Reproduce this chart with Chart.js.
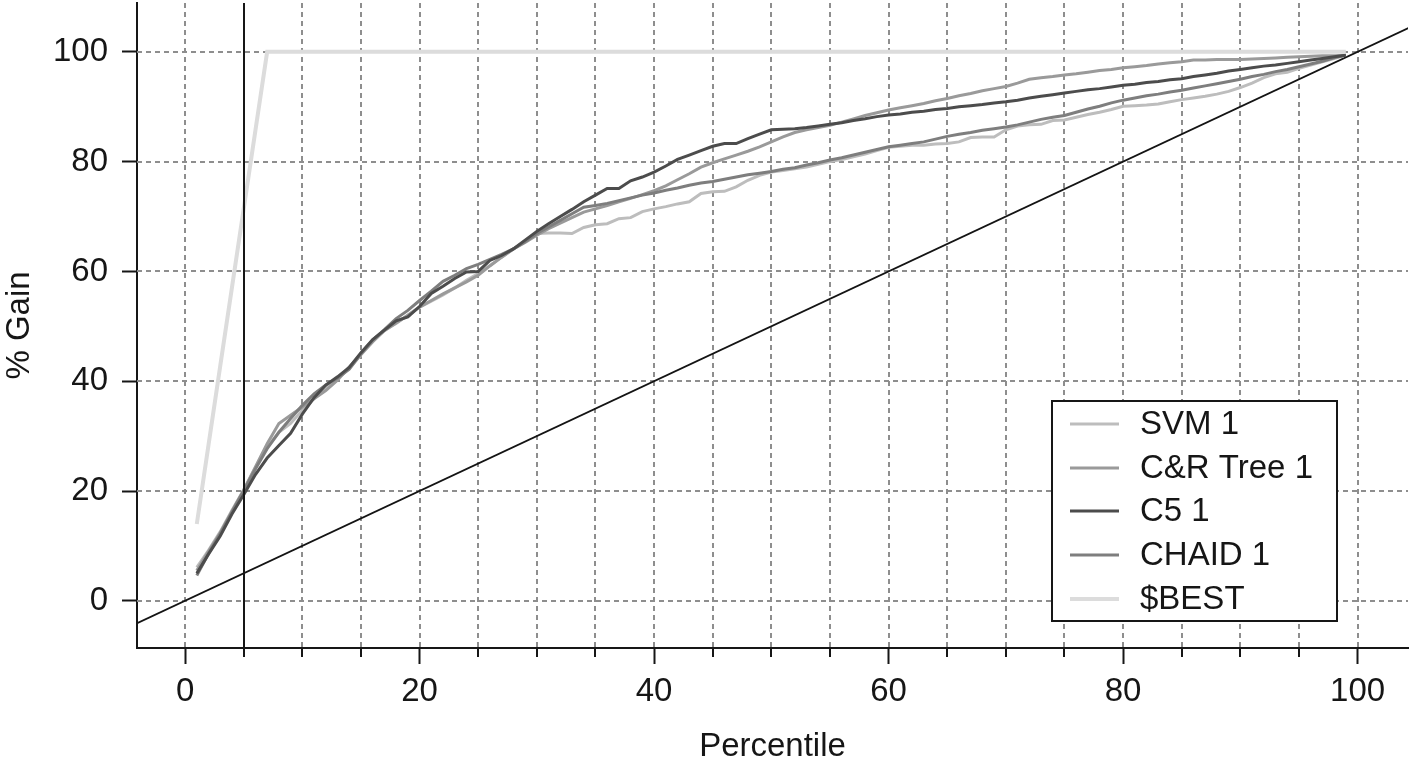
<!DOCTYPE html>
<html>
<head>
<meta charset="utf-8">
<script src="https://cdn.jsdelivr.net/npm/chart.js@4.4.0/dist/chart.umd.min.js"></script>
<style>
  html, body { margin: 0; padding: 0; background: #fff; }
  canvas { display: block; }
</style>
</head>
<body>
<canvas id="gain" width="1413" height="767"></canvas>
<script>
// ── Data ────────────────────────────────────────────────────────────
const PERCENTILES = [
  1, 2, 3, 4, 5, 6, 7, 8, 9, 10, 11, 12, 13, 14, 15, 16, 17, 18, 19, 20,
  21, 22, 23, 24, 25, 26, 27, 28, 29, 30, 31, 32, 33, 34, 35, 36, 37, 38, 39, 40,
  41, 42, 43, 44, 45, 46, 47, 48, 49, 50, 51, 52, 53, 54, 55, 56, 57, 58, 59, 60,
  61, 62, 63, 64, 65, 66, 67, 68, 69, 70, 71, 72, 73, 74, 75, 76, 77, 78, 79, 80,
  81, 82, 83, 84, 85, 86, 87, 88, 89, 90, 91, 92, 93, 94, 95, 96, 97, 98, 99,
];

const SVM_1 = [
  6.1, 9.2, 12.6, 16.5, 20.2, 24.2, 28.0, 30.7, 32.3, 34.7, 36.8, 38.9, 40.5, 42.3, 44.8, 47.2, 49.3, 50.5, 52.0, 53.5,
  54.6, 55.7, 57.0, 58.4, 59.6, 61.1, 62.6, 64.1, 65.5, 66.9, 67.0, 67.0, 66.9, 68.0, 68.5, 68.7, 69.6, 69.8, 70.9, 71.4,
  71.8, 72.3, 72.7, 74.2, 74.5, 74.6, 75.4, 76.6, 77.5, 78.1, 78.4, 78.7, 79.0, 79.5, 80.0, 80.4, 80.9, 81.4, 82.0, 82.6,
  82.8, 83.0, 83.0, 83.2, 83.3, 83.6, 84.4, 84.5, 84.5, 85.8, 86.5, 86.7, 86.8, 87.5, 87.6, 88.1, 88.6, 89.0, 89.5, 90.1,
  90.2, 90.3, 90.5, 90.9, 91.3, 91.6, 91.9, 92.3, 92.8, 93.5, 94.3, 95.3, 96.0, 96.3, 97.0, 97.6, 98.2, 98.8, 99.4,
];

const CR_TREE_1 = [
  5.5, 9.0, 12.4, 16.3, 20.2, 24.4, 28.6, 32.3, 33.8, 35.3, 36.8, 38.3, 40.2, 42.6, 44.9, 47.2, 49.2, 50.6, 52.0, 53.5,
  54.7, 55.9, 57.0, 58.1, 59.3, 61.0, 62.6, 64.1, 65.3, 66.6, 67.8, 68.8, 69.8, 70.8, 71.4, 72.0, 72.7, 73.3, 74.0, 74.7,
  75.6, 76.7, 77.8, 79.0, 79.8, 80.5, 81.2, 81.9, 82.7, 83.6, 84.5, 85.3, 85.8, 86.2, 86.6, 87.2, 87.8, 88.4, 88.9, 89.4,
  89.8, 90.2, 90.6, 91.1, 91.5, 92.0, 92.4, 92.9, 93.3, 93.7, 94.3, 95.0, 95.3, 95.5, 95.8, 96.0, 96.3, 96.6, 96.8, 97.1,
  97.3, 97.5, 97.8, 98.0, 98.2, 98.5, 98.5, 98.6, 98.6, 98.6, 98.7, 98.8, 98.9, 99.0, 99.1, 99.2, 99.3, 99.3, 99.4,
];

const C5_1 = [
  5.0, 8.5, 11.8, 15.8, 19.3, 23.0, 26.0, 28.3, 30.5, 34.0, 37.0, 39.3, 40.8, 42.5, 45.2, 47.6, 49.3, 51.0, 51.7, 53.6,
  56.0, 57.3, 58.7, 59.9, 60.0, 62.0, 62.9, 64.1, 65.7, 67.3, 68.7, 70.0, 71.3, 72.7, 73.9, 75.1, 75.1, 76.5, 77.2, 78.1,
  79.2, 80.4, 81.2, 82.0, 82.8, 83.3, 83.3, 84.2, 85.0, 85.8, 85.9, 86.0, 86.2, 86.5, 86.8, 87.1, 87.5, 87.8, 88.2, 88.5,
  88.7, 89.0, 89.2, 89.5, 89.7, 90.0, 90.2, 90.4, 90.7, 90.9, 91.2, 91.6, 91.9, 92.2, 92.5, 92.8, 93.1, 93.3, 93.6, 93.9,
  94.1, 94.4, 94.6, 94.9, 95.1, 95.5, 95.8, 96.1, 96.5, 96.8, 97.1, 97.4, 97.6, 97.9, 98.2, 98.5, 98.8, 99.1, 99.4,
];

const CHAID_1 = [
  4.6, 8.6, 12.2, 16.2, 20.0, 24.0, 27.7, 30.7, 33.2, 35.6, 37.7, 39.3, 40.6, 42.2, 45.0, 47.5, 49.4, 51.4, 52.9, 54.7,
  56.4, 58.2, 59.3, 60.5, 61.3, 62.2, 63.1, 64.1, 65.4, 66.9, 68.1, 69.3, 70.5, 71.7, 72.0, 72.4, 72.9, 73.4, 73.9, 74.3,
  74.8, 75.2, 75.7, 76.1, 76.4, 76.8, 77.2, 77.6, 77.9, 78.2, 78.6, 78.9, 79.4, 79.8, 80.3, 80.7, 81.2, 81.7, 82.2, 82.7,
  83.0, 83.3, 83.6, 84.1, 84.6, 85.0, 85.3, 85.7, 86.0, 86.3, 86.7, 87.2, 87.7, 88.1, 88.4, 89.0, 89.6, 90.1, 90.7, 91.2,
  91.6, 92.0, 92.3, 92.7, 93.0, 93.4, 93.8, 94.2, 94.6, 95.0, 95.5, 95.9, 96.4, 96.8, 97.3, 97.8, 98.3, 98.9, 99.4,
];

const BEST = [
  14.0, 28.4, 42.8, 57.1, 71.4, 85.7, 100, 100, 100, 100, 100, 100, 100, 100, 100, 100, 100, 100, 100, 100,
  100, 100, 100, 100, 100, 100, 100, 100, 100, 100, 100, 100, 100, 100, 100, 100, 100, 100, 100, 100,
  100, 100, 100, 100, 100, 100, 100, 100, 100, 100, 100, 100, 100, 100, 100, 100, 100, 100, 100, 100,
  100, 100, 100, 100, 100, 100, 100, 100, 100, 100, 100, 100, 100, 100, 100, 100, 100, 100, 100, 100,
  100, 100, 100, 100, 100, 100, 100, 100, 100, 100, 100, 100, 100, 100, 100, 100, 100, 100, 100,
];

// diagonal (random model) and the 5th-percentile cut-off
const BASELINE = [-10, 110];
const CUTOFF = 5;

const X_TICKS = [0, 20, 40, 60, 80, 100];
const X_MINOR = [0, 5, 10, 15, 20, 25, 30, 35, 40, 45, 50, 55, 60, 65, 70, 75, 80, 85, 90, 95, 100];
const Y_TICKS = [0, 20, 40, 60, 80, 100];

// ── Styling ─────────────────────────────────────────────────────────
const FONT = "'Liberation Sans', Arial, Helvetica, sans-serif";
const FONT_SIZE = 33;
const INK = '#161616';
const GRID = '#8e8e8e';

Chart.defaults.font.family = FONT;
Chart.defaults.color = INK;

const pts = (ys) => PERCENTILES.map((p, i) => ({ x: p, y: ys[i] }));

function series(label, ys, color, width, order) {
  return {
    label, data: pts(ys), borderColor: color, backgroundColor: color,
    borderWidth: width, pointRadius: 0, tension: 0, fill: false, order,
  };
}

const datasets = [
  series('SVM 1', SVM_1, '#bdbdbd', 3, 5),
  series('C&R Tree 1', CR_TREE_1, '#9a9a9a', 3, 4),
  series('C5 1', C5_1, '#4c4c4c', 3, 2),
  series('CHAID 1', CHAID_1, '#7e7e7e', 3, 3),
  series('$BEST', BEST, '#dcdcdc', 4, 1),
  {
    label: 'baseline', legend: false,
    data: BASELINE.map(v => ({ x: v, y: v })),
    borderColor: '#141414', borderWidth: 1.8, pointRadius: 0, order: 6,
  },
];

// ── Plugins: dashed grid, minor ticks, cut-off line, boxed legend ───
const gainDecor = {
  id: 'gainDecor',
  beforeDatasetsDraw(chart) {
    const { ctx, chartArea: a, scales: { x, y } } = chart;
    ctx.save();
    ctx.strokeStyle = GRID;
    ctx.lineWidth = 2;
    ctx.setLineDash([5, 4]);
    X_MINOR.forEach(v => {
      if (v === CUTOFF) return;
      const px = Math.round(x.getPixelForValue(v));
      ctx.beginPath(); ctx.moveTo(px, a.top); ctx.lineTo(px, a.bottom); ctx.stroke();
    });
    Y_TICKS.forEach(v => {
      const py = Math.round(y.getPixelForValue(v));
      ctx.beginPath(); ctx.moveTo(a.left, py); ctx.lineTo(a.right, py); ctx.stroke();
    });
    ctx.setLineDash([]);
    // minor tick marks under the x axis
    ctx.strokeStyle = INK;
    X_MINOR.forEach(v => {
      if (X_TICKS.includes(v)) return;
      const px = Math.round(x.getPixelForValue(v));
      ctx.beginPath(); ctx.moveTo(px, a.bottom); ctx.lineTo(px, a.bottom + 9); ctx.stroke();
    });
    ctx.restore();
  },
  afterDatasetsDraw(chart) {
    const { ctx, chartArea: a, scales: { x } } = chart;
    const px = Math.round(x.getPixelForValue(CUTOFF));
    ctx.save();
    ctx.strokeStyle = INK;
    ctx.lineWidth = 2;
    ctx.beginPath(); ctx.moveTo(px, a.top); ctx.lineTo(px, a.bottom + 9); ctx.stroke();
    ctx.restore();
  },
  afterDraw(chart) {
    const { ctx } = chart;
    const box = { left: 1052, top: 401, right: 1337, bottom: 621 };
    const items = chart.data.datasets.filter(d => d.legend !== false);
    ctx.save();
    ctx.fillStyle = '#fff';
    ctx.fillRect(box.left, box.top, box.right - box.left, box.bottom - box.top);
    ctx.strokeStyle = INK;
    ctx.lineWidth = 2;
    ctx.strokeRect(box.left, box.top, box.right - box.left, box.bottom - box.top);
    ctx.font = `${FONT_SIZE}px ${FONT}`;
    ctx.textBaseline = 'middle';
    ctx.fillStyle = INK;
    items.forEach((d, i) => {
      const cy = Math.round(box.top + 23 + i * 43.7);
      ctx.strokeStyle = d.borderColor;
      ctx.lineWidth = d.borderWidth;
      ctx.beginPath(); ctx.moveTo(box.left + 18, cy); ctx.lineTo(box.left + 67, cy); ctx.stroke();
      ctx.fillText(d.label, box.left + 88, cy + 1);
    });
    ctx.restore();
  },
};

// ── Chart ───────────────────────────────────────────────────────────
new Chart(document.getElementById('gain'), {
  type: 'line',
  data: { datasets },
  plugins: [gainDecor],
  options: {
    responsive: false,
    animation: false,
    layout: { padding: { top: 3, right: 5, left: 0, bottom: 0 } },
    plugins: { legend: { display: false }, tooltip: { enabled: false } },
    scales: {
      x: {
        type: 'linear',
        min: -4.1,
        max: 104.3,
        afterBuildTicks: (s) => { s.ticks = X_TICKS.map(v => ({ value: v })); },
        afterFit: (s) => { s.height = 119; s.paddingLeft = 0; s.paddingRight = 0; },
        ticks: { font: { size: FONT_SIZE, lineHeight: 1.2 }, color: INK, padding: 8, autoSkip: false, maxRotation: 0 },
        grid: { drawOnChartArea: false, drawTicks: true, tickLength: 16, tickWidth: 2, tickColor: INK },
        border: { display: true, color: INK, width: 2 },
        title: { display: true, text: 'Percentile', color: INK, font: { size: FONT_SIZE, lineHeight: 1.2 }, padding: { top: 1, bottom: 0 } },
      },
      y: {
        type: 'linear',
        min: -8.6,
        max: 108.9,
        afterBuildTicks: (s) => { s.ticks = Y_TICKS.map(v => ({ value: v })); },
        afterFit: (s) => { s.width = 137; s.paddingTop = 0; s.paddingBottom = 0; },
        ticks: { font: { size: FONT_SIZE, lineHeight: 1.2 }, color: INK, padding: 14 },
        grid: { drawOnChartArea: false, drawTicks: true, tickLength: 15, tickWidth: 2, tickColor: INK },
        border: { display: true, color: INK, width: 2 },
        title: { display: true, text: '% Gain', color: INK, font: { size: FONT_SIZE, lineHeight: 1.2 }, padding: { top: 0, bottom: 0 } },
      },
    },
  },
});
</script>
</body>
</html>
